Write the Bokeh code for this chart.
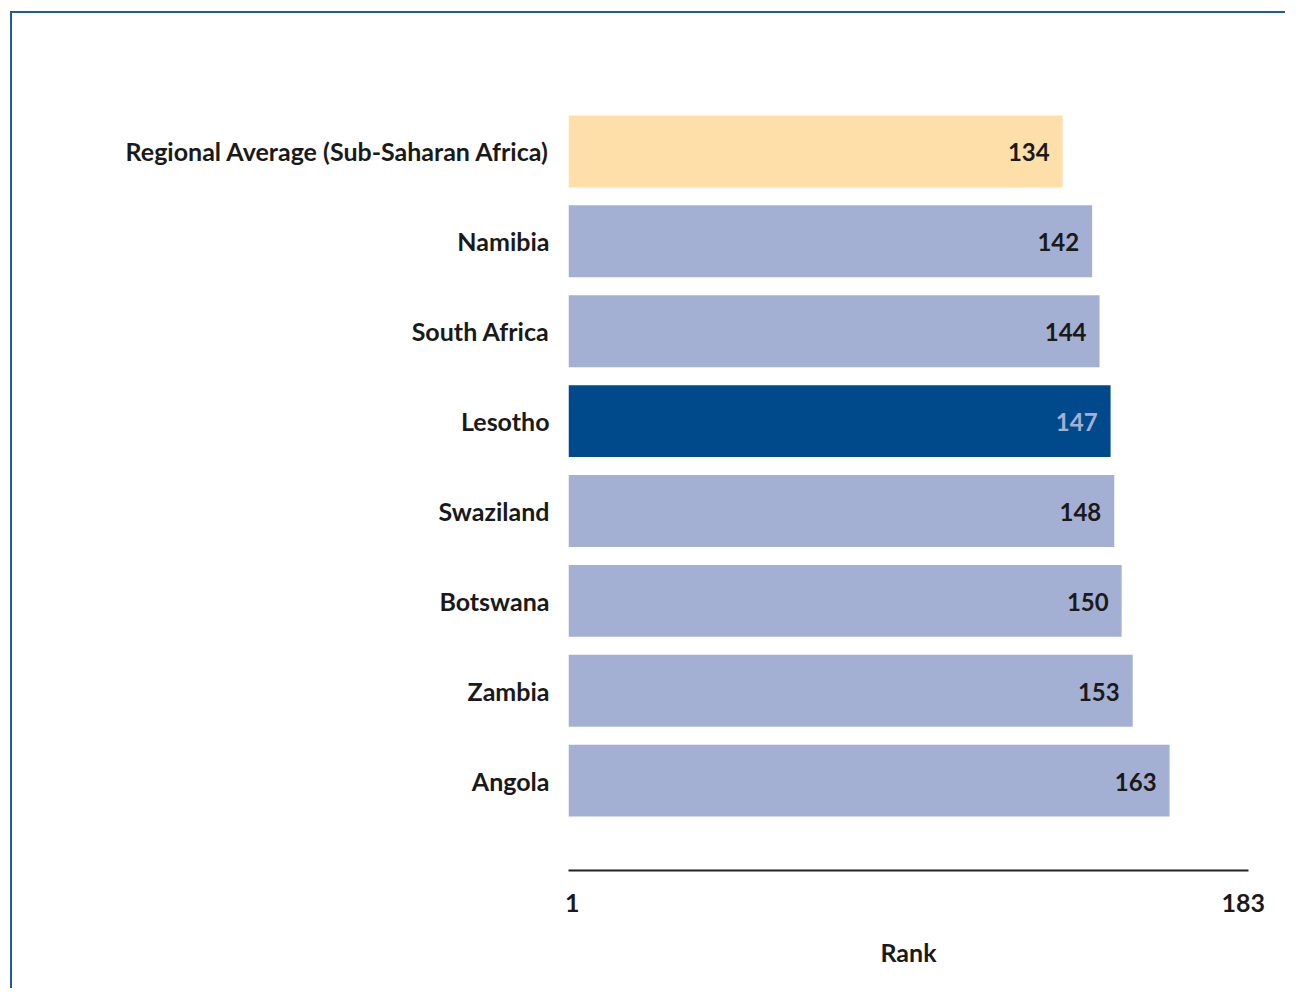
from bokeh.plotting import figure
from bokeh.models import Range1d, FixedTicker, ColumnDataSource
from bokeh.embed import file_html
from bokeh.resources import INLINE
from bokeh.core.properties import value

categories = ["Regional Average (Sub-Saharan Africa)", "Namibia", "South Africa",
              "Lesotho", "Swaziland", "Botswana", "Zambia", "Angola"]
ranks = [134, 142, 144, 147, 148, 150, 153, 163]
bar_colors = ["#fedfa9", "#a4b0d3", "#a4b0d3", "#004a8c",
              "#a4b0d3", "#a4b0d3", "#a4b0d3", "#a4b0d3"]
label_colors = ["#1a1a1a", "#1a1a1a", "#1a1a1a", "#a4b0d3",
                "#1a1a1a", "#1a1a1a", "#1a1a1a", "#1a1a1a"]
tick_values = [1, 183]
axis_title = "Rank"

FONT = "Lato"
FRAME_BLUE = "#1f5a9e"
n = len(categories)
ypos = [n - 1 - i for i in range(n)]

src = ColumnDataSource(dict(y=ypos, rank=ranks, name=categories,
                            color=bar_colors, lcolor=label_colors,
                            label=[str(r) for r in ranks]))

p = figure(width=1285, height=988, output_backend="svg", toolbar_location=None,
           x_range=Range1d(0, 184.4), y_range=Range1d(-1.0, 7.5),
           min_border_left=568, min_border_right=37,
           min_border_top=106, min_border_bottom=118)

# page frame line (top and left edges), drawn behind a transparent canvas border
p.styles = {
    "background": (f"linear-gradient({FRAME_BLUE},{FRAME_BLUE}) 10px 11px / 100% 2px no-repeat, "
                   f"linear-gradient({FRAME_BLUE},{FRAME_BLUE}) 10px 11px / 2px 100% no-repeat, "
                   "#ffffff")
}
p.border_fill_color = None
p.background_fill_color = "white"

p.hbar(y="y", left=0, right="rank", height=0.8, fill_color="color",
       line_color=None, source=src)
p.text(x="rank", y="y", text="label", x_offset=-13, y_offset=1, text_align="right",
       text_baseline="middle", text_color="lcolor", text_font=value(FONT),
       text_font_style="bold", text_font_size="24px", source=src)

p.outline_line_color = None
p.grid.visible = False

p.yaxis.ticker = FixedTicker(ticks=ypos)
p.yaxis.major_label_overrides = {y: c for y, c in zip(ypos, categories)}
p.yaxis.axis_line_color = None
p.yaxis.major_tick_line_color = None
p.yaxis.minor_tick_line_color = None
p.yaxis.major_label_standoff = 13
p.yaxis.major_label_text_font = FONT
p.yaxis.major_label_text_font_style = "bold"
p.yaxis.major_label_text_font_size = "25px"
p.yaxis.major_label_text_color = "#1a1a1a"

p.xaxis.ticker = FixedTicker(ticks=tick_values)
p.xaxis.axis_line_color = "#222222"
p.xaxis.axis_line_width = 2
p.xaxis.major_tick_out = 0
p.xaxis.major_tick_in = 0
p.xaxis.minor_tick_line_color = None
p.xaxis.major_label_standoff = 23
p.xaxis.major_label_text_font = FONT
p.xaxis.major_label_text_font_style = "bold"
p.xaxis.major_label_text_font_size = "25px"
p.xaxis.major_label_text_color = "#1a1a1a"
p.xaxis.axis_label = axis_title
p.xaxis.axis_label_standoff = 22
p.xaxis.axis_label_text_font = FONT
p.xaxis.axis_label_text_font_style = "bold"
p.xaxis.axis_label_text_font_size = "25px"
p.xaxis.axis_label_text_color = "#1a1a1a"

open("out.html", "w").write(file_html(p, INLINE))
